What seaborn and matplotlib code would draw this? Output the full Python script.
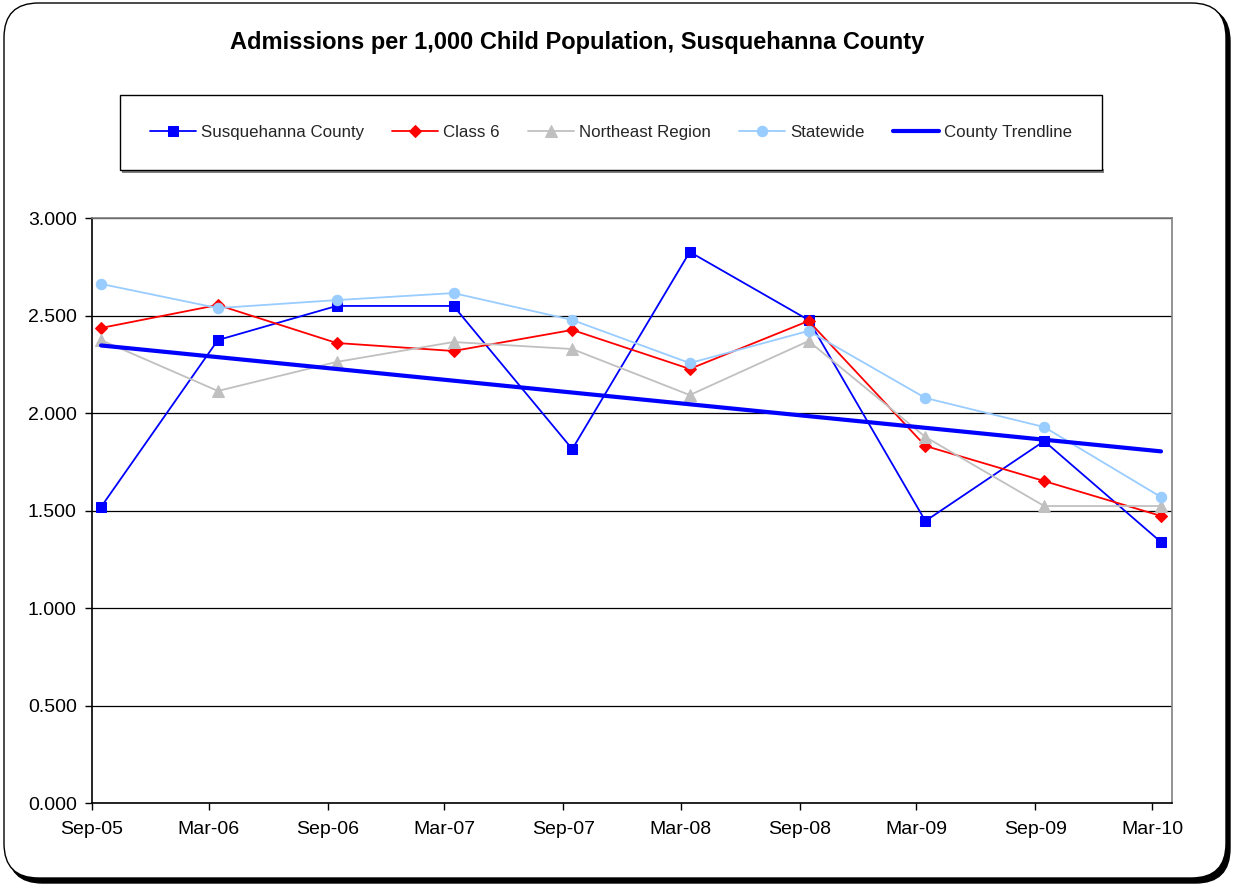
import numpy as np
import pandas as pd
import matplotlib
matplotlib.use("Agg")
import matplotlib.pyplot as plt
import matplotlib.dates as mdates
from matplotlib.patches import FancyBboxPatch, Rectangle
from matplotlib.ticker import FuncFormatter, MultipleLocator
import seaborn as sns

# ---- data ----
periods = ["2005-09-15", "2006-03-15", "2006-09-15", "2007-03-15", "2007-09-15",
           "2008-03-15", "2008-09-15", "2009-03-15", "2009-09-15", "2010-03-15"]
county = [1.518, 2.374, 2.549, 2.549, 1.815, 2.826, 2.477, 1.446, 1.856, 1.338]
class6 = [2.436, 2.554, 2.359, 2.318, 2.426, 2.226, 2.472, 1.831, 1.651, 1.472]
northeast = [2.374, 2.113, 2.262, 2.364, 2.328, 2.092, 2.369, 1.877, 1.523, 1.523]
statewide = [2.662, 2.538, 2.579, 2.615, 2.477, 2.256, 2.421, 2.077, 1.928, 1.569]
series_names = ["Susquehanna County", "Class 6", "Northeast Region", "Statewide"]
title = "Admissions per 1,000 Child Population, Susquehanna County"

dates = pd.to_datetime(periods)

sns.set_theme(style="white")
plt.rcParams["font.family"] = ["Liberation Sans", "DejaVu Sans"]

fig = plt.figure(figsize=(12.33, 8.88), dpi=100)
W, H = 1233, 888

# outer rounded frame with shadow
shadow = FancyBboxPatch((8 / W, 1 - 883 / H), 1222 / W, 876 / H,
                        boxstyle="round,pad=0,rounding_size=0.028",
                        transform=fig.transFigure, facecolor="black",
                        edgecolor="black", zorder=0, mutation_aspect=W / H)
frame = FancyBboxPatch((4 / W, 1 - 878 / H), 1222 / W, 875 / H,
                       boxstyle="round,pad=0,rounding_size=0.028",
                       transform=fig.transFigure, facecolor="white",
                       edgecolor="black", linewidth=1.0, zorder=1, mutation_aspect=W / H)
fig.patches.extend([shadow, frame])

ax = fig.add_axes([92 / W, 1 - 803 / H, 1080 / W, 585 / H])
ax.set_zorder(3)
ax.set_facecolor("white")

styles = [
    dict(color="#0000FF", marker="s", markersize=7.5),
    dict(color="#FF0000", marker="D", markersize=6.5),
    dict(color="#C0C0C0", marker="^", markersize=8),
    dict(color="#99CCFF", marker="o", markersize=7.5),
]
vals = [county, class6, northeast, statewide]
for name, v, st in zip(series_names, vals, styles):
    sns.lineplot(x=dates, y=v, ax=ax, label=name, color=st["color"],
                 marker=st["marker"], markersize=st["markersize"],
                 markeredgecolor=st["color"], markerfacecolor=st["color"],
                 linewidth=1.3, zorder=5)

# linear trendline of county series
xnum = mdates.date2num(dates)
coef = np.polyfit(xnum, county, 1)
trend = np.polyval(coef, xnum[[0, -1]])
sns.lineplot(x=dates[[0, -1]], y=trend, ax=ax, color="#0000FF", linewidth=3,
             label="County Trendline", zorder=6)

ax.set_xlim(pd.Timestamp("2005-09-01"), pd.Timestamp("2010-04-01"))
ax.set_ylim(0, 3.0)
ax.xaxis.set_major_locator(mdates.MonthLocator(bymonth=[3, 9]))
ax.xaxis.set_major_formatter(mdates.DateFormatter("%b-%y"))
ax.yaxis.set_major_locator(MultipleLocator(0.5))
ax.yaxis.set_major_formatter(FuncFormatter(lambda y, p: f"{y:.3f}"))
ax.grid(axis="y", color="black", linewidth=0.9)
ax.grid(axis="x", visible=False)
ax.set_xlabel("")
ax.set_ylabel("")
ax.tick_params(axis="both", which="major", direction="out", length=5, width=1,
               color="black", labelsize=14, labelcolor="black", pad=6)
ax.tick_params(axis="x", pad=8)
ax.tick_params(left=True, bottom=True)
for side in ["left", "bottom"]:
    ax.spines[side].set_color("black")
    ax.spines[side].set_linewidth(1.2)
for side in ["top", "right"]:
    ax.spines[side].set_color("#808080")
    ax.spines[side].set_linewidth(1.2)

# title
fig.text(577 / W, 1 - 43 / H, title, ha="center", va="center",
         fontsize=17, fontweight="bold", color="black")

# legend
handles, labels = ax.get_legend_handles_labels()
ax.get_legend().remove()
leg_shadow = Rectangle((122 / W, 1 - 173 / H), 982 / W, 4 / H,
                       transform=fig.transFigure, facecolor="#808080",
                       edgecolor="none", zorder=1.5)
fig.patches.append(leg_shadow)
leg = fig.legend(handles, labels, loc="center", ncol=5,
                 bbox_to_anchor=(120 / W, 1 - 170 / H, 982 / W, 75 / H),
                 mode="expand", frameon=True, fancybox=False, shadow=False,
                 fontsize=12.2, handlelength=2.7, handletextpad=0.3,
                 borderaxespad=0, borderpad=1.77, columnspacing=1.5)
leg.get_frame().set_edgecolor("black")
leg.get_frame().set_linewidth(1.0)
leg.get_frame().set_facecolor("white")
leg.get_frame().set_alpha(1)
leg.set_zorder(2)

fig.savefig("out.png", dpi=100)
